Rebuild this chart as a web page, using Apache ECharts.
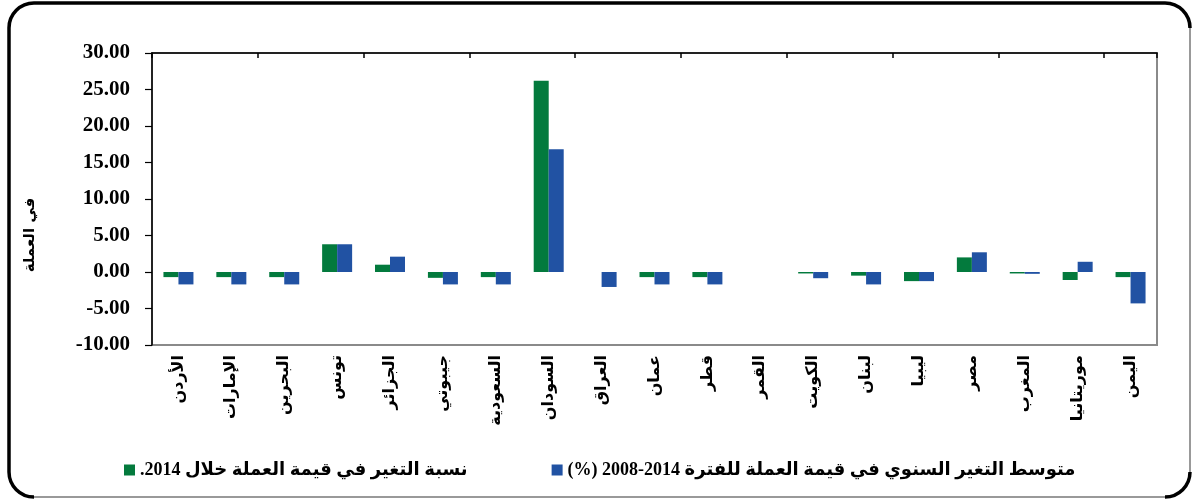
<!DOCTYPE html>
<html>
<head>
<meta charset="utf-8">
<script src="https://cdn.jsdelivr.net/npm/echarts@6/dist/echarts.min.js"></script>
<style>html,body{margin:0;padding:0;background:#fff;}#c{width:1193px;height:502px;}</style>
</head>
<body>
<div id="c"></div>
<script>
const categories = ['الأردن','الإمارات','البحرين','تونس','الجزائر','جيبوتي','السعودية','السودان','العراق','عمان','قطر','القمر','الكويت','لبنان','ليبيا','مصر','المغرب','موريتانيا','اليمن'];
const change2014 = [-0.7,-0.7,-0.7,3.8,1.0,-0.8,-0.7,26.2,0,-0.7,-0.7,0,-0.2,-0.5,-1.25,2.0,-0.2,-1.1,-0.7];
const avg2008_2014 = [-1.7,-1.7,-1.7,3.8,2.1,-1.7,-1.7,16.8,-2.05,-1.7,-1.7,0,-0.85,-1.7,-1.25,2.7,-0.25,1.4,-4.3];
const seriesNames = ['نسبة التغير في قيمة العملة خلال 2014.\u200F', 'متوسط التغير السنوي في قيمة العملة للفترة 2014-2008 (%)\u200F'];
const yAxisTitle = 'في العملة';
const yMin = -10, yMax = 30, yStep = 5;

const chart = echarts.init(document.getElementById('c'));
const L = 9, T = 3, R = 1190, B = 497, r = 25;
const frame = { stroke: '#000', lineWidth: 3.5, fill: null };
chart.setOption({
  animation: false,
  backgroundColor: '#fff',
  grid: { left: 152, right: 36, top: 53, bottom: 157, show: true, borderColor: '#8a8a8a', borderWidth: 2 },
  legend: {
    left: 119, top: 456, itemWidth: 11, itemHeight: 11, itemGap: 84, icon: 'rect',
    textStyle: { fontFamily: 'Liberation Serif, DejaVu Sans', fontWeight: 'bold', fontSize: 18, color: '#000' }
  },
  xAxis: [
    {
      type: 'category', data: categories, position: 'bottom',
      axisLine: { show: false }, axisTick: { show: false },
      axisLabel: { rotate: 90, margin: 10, interval: 0, fontFamily: 'DejaVu Sans', fontWeight: 'bold', fontSize: 16, color: '#000' }
    },
    {
      type: 'category', data: categories, position: 'top',
      axisLine: { show: true, onZero: true, lineStyle: { color: '#000', width: 1.5 } },
      axisTick: { show: true, inside: true, length: 5, lineStyle: { color: '#000', width: 1.5 } },
      axisLabel: { show: false }
    }
  ],
  yAxis: {
    type: 'value', min: yMin, max: yMax, interval: yStep,
    axisLine: { show: true, onZero: false, lineStyle: { color: '#000', width: 1.5 } },
    axisTick: { show: true, length: 7, lineStyle: { color: '#000', width: 1.2 } },
    splitLine: { show: false },
    axisLabel: { margin: 22, formatter: v => v.toFixed(2), fontFamily: 'Liberation Serif', fontWeight: 'bold', fontSize: 21, color: '#000' }
  },
  series: [
    { name: seriesNames[0], type: 'bar', data: change2014, barWidth: 15, barGap: '0%', itemStyle: { color: '#037A3D' } },
    { name: seriesNames[1], type: 'bar', data: avg2008_2014, barWidth: 15, barGap: '0%', itemStyle: { color: '#2152A3' } }
  ],
  graphic: [
    { type: 'text', x: 30, y: 235, rotation: Math.PI / 2, style: { text: yAxisTitle, font: 'bold 15px DejaVu Sans', fill: '#000', align: 'center', verticalAlign: 'middle' } },
    { type: 'line', shape: { x1: L + r, y1: T, x2: R - r, y2: T }, style: frame },
    { type: 'line', shape: { x1: L, y1: T + r, x2: L, y2: B - r }, style: frame },
    { type: 'line', shape: { x1: R, y1: T + r, x2: R, y2: B - r }, style: { stroke: '#777', lineWidth: 1.5 } },
    { type: 'line', shape: { x1: L + r, y1: B, x2: R - r, y2: B }, style: { stroke: '#777', lineWidth: 1.5 } },
    { type: 'arc', shape: { cx: L + r, cy: T + r, r: r, startAngle: Math.PI, endAngle: 1.5 * Math.PI }, style: frame },
    { type: 'arc', shape: { cx: R - r, cy: T + r, r: r, startAngle: 1.5 * Math.PI, endAngle: 2 * Math.PI }, style: frame },
    { type: 'arc', shape: { cx: R - r, cy: B - r, r: r, startAngle: 0, endAngle: 0.5 * Math.PI }, style: frame },
    { type: 'arc', shape: { cx: L + r, cy: B - r, r: r, startAngle: 0.5 * Math.PI, endAngle: Math.PI }, style: frame }
  ]
});
</script>
</body>
</html>
